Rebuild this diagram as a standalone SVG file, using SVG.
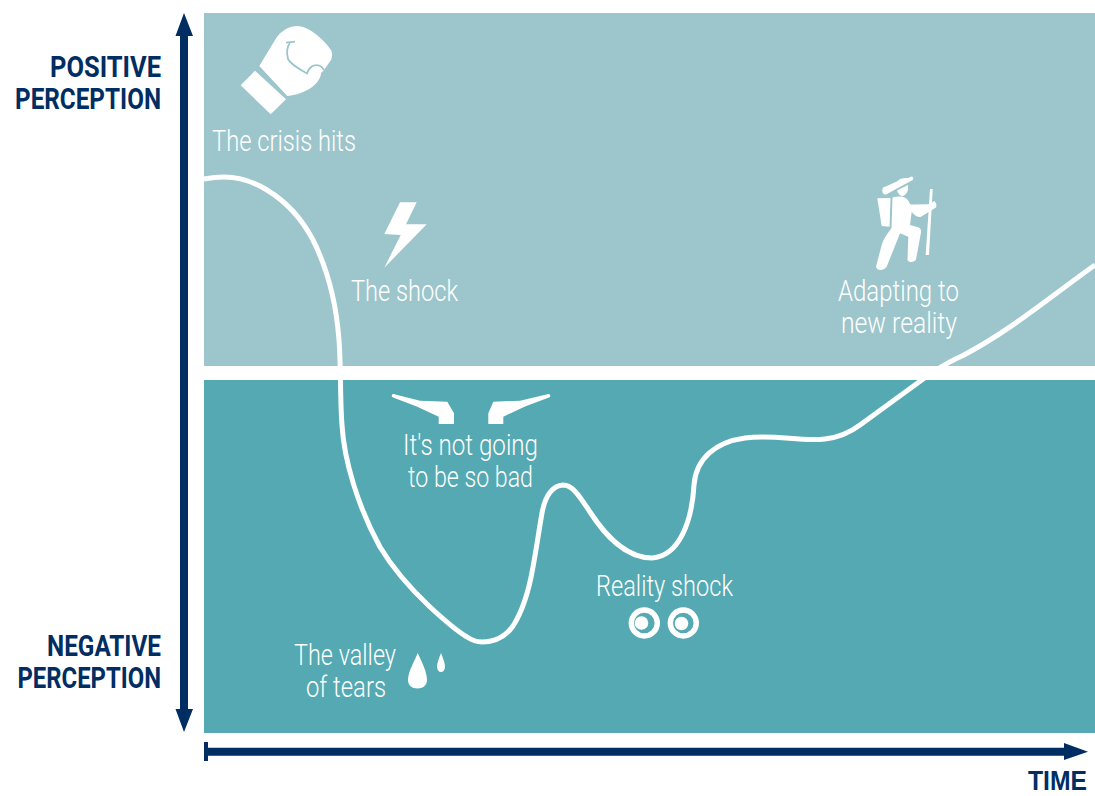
<svg xmlns="http://www.w3.org/2000/svg" width="1095" height="796" viewBox="0 0 1095 796">
<style>
.lbl{font-family:"Roboto","Liberation Sans",sans-serif;font-weight:300;font-size:29px;fill:#fff}
.ax{font-family:"Roboto","Liberation Sans",sans-serif;font-weight:700;font-size:29px;fill:#002d62}
.tm{font-family:"Liberation Sans",sans-serif;font-weight:700;font-size:28px;fill:#002d62}
.ic{fill:#fff}
.nv{fill:#002d62}
</style>
<rect width="1095" height="796" fill="#fff"/>
<g id="zone-positive"><rect x="204" y="13" width="891" height="353" fill="#9cc6cc"/></g>
<g id="zone-negative"><rect x="204" y="380" width="891" height="353" fill="#54a9b2"/></g>
<g id="connectors">
<path id="curve" fill="none" stroke="#fff" stroke-width="5" d="M204 179C212 177.500 218 177 224 177C240 177 254 182 267 190C285 201 302 219 313 240C326 266 336 300 339 340C341 365 340 400 342 425C344 460 358 507 380 547C395 572 412 590 430 607C443 619 455 630 467 637C473 641 478 642 482 642C497 642 506 636 513 626C522 612 529 590 533 567C537 545 539 530 542 513C545 497 552 486 563 485C573 485 580 497 590 512C605 535 625 558 652 558C680 556 692 520 694 485C696 458 716 442 745 438C775 434 800 442 825 439C842 437 852 431 860 425L930 374C945 364 950 361 962 356C1010 331 1050 297 1095 265"/>
<path class="nv" d="M184 13L193 36H188V709H193L184 732L175.500 709H180V36H175.500Z"/>
<path class="nv" d="M204 742H208V747.700H1064V743L1088 751.700L1064 760V755.700H208V761H204Z"/>
</g>
<g id="label-positive">
<text class="ax" x="50" y="77" textLength="111" lengthAdjust="spacingAndGlyphs">POSITIVE</text>
<text class="ax" x="15" y="109" textLength="146" lengthAdjust="spacingAndGlyphs">PERCEPTION</text>
</g>
<g id="label-negative">
<text class="ax" x="47" y="656" textLength="114" lengthAdjust="spacingAndGlyphs">NEGATIVE</text>
<text class="ax" x="17.500" y="688" textLength="143.500" lengthAdjust="spacingAndGlyphs">PERCEPTION</text>
</g>
<g id="label-time"><text class="tm" x="1028" y="790" textLength="59" lengthAdjust="spacingAndGlyphs">TIME</text></g>
<g id="node-crisis">
<path class="ic" d="M240.700 85.300L255 70.700L286 99.300L270.700 114.300Z"/>
<path class="ic" d="M259.300 66L275 40C281 30 290 26 297 26C310 26 326 42 331 50C333 54 332 58 331 60L324 70L321 73C321 82 308 94 287.300 96Z"/>
<path fill="none" stroke="#9cc6cc" stroke-width="1.800" d="M286 42.700L295 41.700M290 43C286 48 287 55 288 59C291 65 301 70 307 73.500C309 67 314 64 319 65.500C322 66.500 323 68 324 70"/>
<text class="lbl" x="212" y="151" textLength="144" lengthAdjust="spacingAndGlyphs">The crisis hits</text>
</g>
<g id="node-shock">
<path class="ic" d="M400 202.300H416.700L406 224.300H426.700L384.300 267.700L400.700 235L384.300 234Z"/>
<text class="lbl" x="351" y="301" textLength="107" lengthAdjust="spacingAndGlyphs">The shock</text>
</g>
<g id="node-adapting">
<path class="ic" d="M883.300 187.500L897 181.500C899 178.500 904 177.500 908 178L911 176.700C913 176 914 179 912.700 180L896 189L886 194.500C883 195.500 881 190 883.300 187.500Z"/>
<path class="ic" d="M897 190.500L908 185C908.500 191 907 194 903 196C900 196 898 194 897 190.500Z"/>
<path class="ic" d="M877.300 198.300L890.500 198L889.500 226.700L881.700 226Z"/>
<path class="ic" d="M892.500 197.500C897 196 902 196 905 197.700C908 199 909.500 203 910.500 204.500L930 204.300L934 201C936 202 937 205 936 207.500L921 216.700C917 218 913.500 214 911.700 211.700L910 225L919 227.500C921 229 921.500 231 920.700 234L916 259.500C915 262 909 263.500 907.500 260L908.300 236.700L900 233.300L886.700 266.700C883 271 877 271 876 266.700L881.700 245C884 237 889 232 891.500 228Z"/>
<path class="ic" d="M930 189H932.700L929 255H925.700Z"/>
<text class="lbl" x="838" y="301" textLength="121" lengthAdjust="spacingAndGlyphs">Adapting to</text>
<text class="lbl" x="841" y="333" textLength="116" lengthAdjust="spacingAndGlyphs">new reality</text>
</g>
<g id="node-denial">
<path class="ic" d="M393.500 394L420 400.700L447.300 401.700L454 413.300V424H438.700V416.700L416.700 406.500L393 397.500C391 396.500 391.500 394 393.500 394Z"/>
<path class="ic" d="M548.500 394L520 400.700L493.300 401.700L488.300 413.300V424H503.300V416.700L525 406.500L549 397.500C551 396.500 550.500 394 548.500 394Z"/>
<text class="lbl" x="403" y="455" textLength="135" lengthAdjust="spacingAndGlyphs">It's not going</text>
<text class="lbl" x="408" y="487" textLength="125" lengthAdjust="spacingAndGlyphs">to be so bad</text>
</g>
<g id="node-valley">
<path class="ic" d="M417.700 653C422 662 427 672 427 680C427 685 423 688.500 417.500 688.500C412 688.500 408 685 408 680C408 672 414 662 417.700 653Z"/>
<path class="ic" d="M441 653C443 658 445 663 445 667C445 670 443 672 441 672C439 672 437 670 437 667C437 663 439 658 441 653Z"/>
<text class="lbl" x="294" y="665" textLength="102" lengthAdjust="spacingAndGlyphs">The valley</text>
<text class="lbl" x="306" y="697" textLength="80" lengthAdjust="spacingAndGlyphs">of tears</text>
</g>
<g id="node-reality">
<text class="lbl" x="596" y="596" textLength="137" lengthAdjust="spacingAndGlyphs">Reality shock</text>
<circle cx="644.300" cy="623" r="13" fill="none" stroke="#fff" stroke-width="5.400"/>
<circle class="ic" cx="641.500" cy="623" r="6.800"/>
<circle cx="683.300" cy="623" r="13" fill="none" stroke="#fff" stroke-width="5.400"/>
<circle class="ic" cx="681.500" cy="623.500" r="6.800"/>
</g>
</svg>
